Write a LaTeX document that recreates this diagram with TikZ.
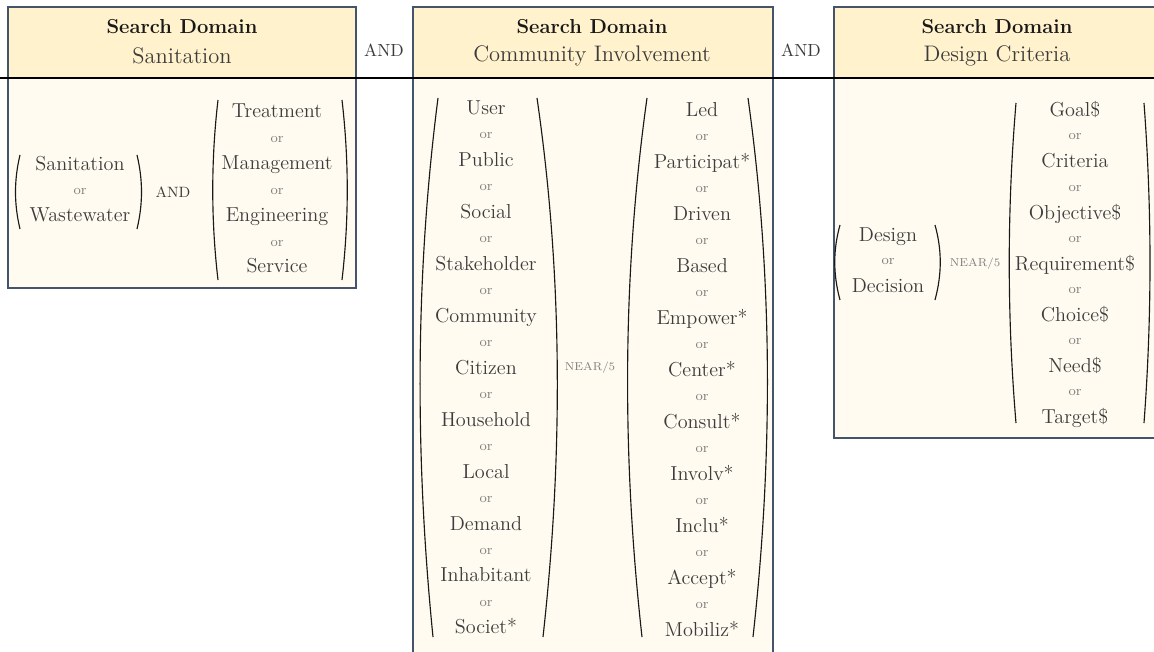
\documentclass[tikz,border=0pt]{standalone}
\usepackage{tikz}
\usetikzlibrary{calc}
\definecolor{headfill}{RGB}{255,242,204}
\definecolor{bodyfill}{RGB}{255,251,240}
\definecolor{boxline}{RGB}{68,84,106}
\definecolor{wordgray}{RGB}{60,60,60}
\definecolor{orgray}{RGB}{128,128,128}

\begin{document}
\begin{tikzpicture}[x=0.02cm,y=-0.02cm]
    % `term' is used for the search words, `conj' for the small "or"s.
    % `headbox' and `bodybox' are the two parts of each domain box.
    \tikzstyle{term} = [text=wordgray,font=\fontsize{11.5}{13}\selectfont,inner sep=0pt,text height=8pt,text depth=2.5pt]
    \tikzstyle{conj} = [text=orgray,font=\fontsize{7.8}{9}\selectfont,inner sep=0pt]
    \tikzstyle{oper} = [text=wordgray,font=\fontsize{8.5}{10}\selectfont,inner sep=0pt]
    \tikzstyle{nearop} = [text=orgray,font=\fontsize{6.5}{8}\selectfont,inner sep=0pt]
    \tikzstyle{headbox} = [fill=headfill,draw=boxline,line width=0.6pt]
    \tikzstyle{bodybox} = [fill=bodyfill,draw=boxline,line width=0.6pt]
    \tikzstyle{headbold} = [text=black!90,font=\bfseries\fontsize{11.5}{14}\selectfont,inner sep=0pt]
    \tikzstyle{headsub} = [text=wordgray,font=\fontsize{12.8}{15}\selectfont,inner sep=0pt]
    \tikzstyle{paren} = [line width=0.65pt,black!90]
    %
    \clip (0,0) rectangle (1154,652);
    % Draw boxes.
    \draw[bodybox] (8,78) rectangle (356,288);
    \draw[headbox] (8,7) rectangle (356,78);
    \draw[bodybox] (413,78) rectangle (773,660);
    \draw[headbox] (413,7) rectangle (773,78);
    \draw[bodybox] (834,78) rectangle (1160,438);
    \draw[headbox] (834,7) rectangle (1160,78);
    \draw[line width=1.2pt] (0,78) -- (1154,78);
    % Headers.
    \node[headbold] (sd1) at (182,27) {Search Domain};
    \node[headsub] (dom1) at (182,56) {Sanitation};
    \node[headbold] (sd2) at (592,27) {Search Domain};
    \node[headsub] (dom2) at (592,56) {Community Involvement};
    \node[headbold] (sd3) at (997,27) {Search Domain};
    \node[headsub] (dom3) at (997,56) {Design Criteria};
    \node[oper,font=\fontsize{10}{12}\selectfont] (and1) at (384,50) {AND};
    \node[oper,font=\fontsize{10}{12}\selectfont] (and2) at (801,50) {AND};
    % Sanitation.
    \node[term] (san) at (80,166) {Sanitation};
    \node[conj] (sanor) at (80,192) {or};
    \node[term] (waste) at (80,217) {Wastewater};
    \node[oper] (and3) at (173,192) {AND};
    \foreach \w [count=\i] in {Treatment,Management,Engineering,Service}
      \node[term] (act\i) at (277,{113+51.7*(\i-1)}) {\w};
    \foreach \i in {1,2,3}
      \node[conj] (actor\i) at (277,{140+51.7*(\i-1)}) {or};
    \draw[paren] (20,155) .. controls (14,180) and (14,204) .. (20,229);
    \draw[paren] (137,155) .. controls (143,180) and (143,204) .. (137,229);
    \draw[paren] (218,100) .. controls (211,160) and (211,220) .. (218,280);
    \draw[paren] (342,100) .. controls (349,160) and (349,220) .. (342,280);
    % Community involvement.
    \foreach \w [count=\i] in {User,Public,Social,Stakeholder,Community,Citizen,Household,Local,Demand,Inhabitant,Societ*}
      \node[term] (who\i) at (486,{110+51.9*(\i-1)}) {\w};
    \foreach \i in {1,...,10}
      \node[conj] (whoor\i) at (486,{136+51.9*(\i-1)}) {or};
    \node[nearop] (near1) at (590,368) {NEAR/5};
    \foreach \w [count=\i] in {Led,Participat*,Driven,Based,Empower*,Center*,Consult*,Involv*,Inclu*,Accept*,Mobiliz*}
      \node[term] (how\i) at (702,{112+52*(\i-1)}) {\w};
    \foreach \i in {1,...,10}
      \node[conj] (howor\i) at (702,{138+52*(\i-1)}) {or};
    \draw[paren] (438,98) .. controls (415,277) and (415,457) .. (433,637);
    \draw[paren] (537,98) .. controls (563,277) and (563,457) .. (543,637);
    \draw[paren] (647,98) .. controls (622,277) and (622,457) .. (642,637);
    \draw[paren] (748,98) .. controls (773,277) and (773,457) .. (753,637);
    % Design criteria.
    \node[term] (des) at (888,237) {Design};
    \node[conj] (desor) at (888,262) {or};
    \node[term] (dec) at (888,288) {Decision};
    \node[nearop] (near2) at (975,264) {NEAR/5};
    \foreach \w [count=\i] in {Goal\$,Criteria,Objective\$,Requirement\$,Choice\$,Need\$,Target\$}
      \node[term] (aim\i) at (1075,{112+51.1*(\i-1)}) {\w};
    \foreach \i in {1,...,6}
      \node[conj] (aimor\i) at (1075,{137+51.1*(\i-1)}) {or};
    \draw[paren] (840,225) .. controls (833,250) and (833,274) .. (840,300);
    \draw[paren] (935,225) .. controls (942,250) and (942,274) .. (935,300);
    \draw[paren] (1016,103) .. controls (1007,210) and (1007,316) .. (1016,423);
    \draw[paren] (1144,103) .. controls (1152,210) and (1152,316) .. (1144,423);
\end{tikzpicture}
\end{document}
